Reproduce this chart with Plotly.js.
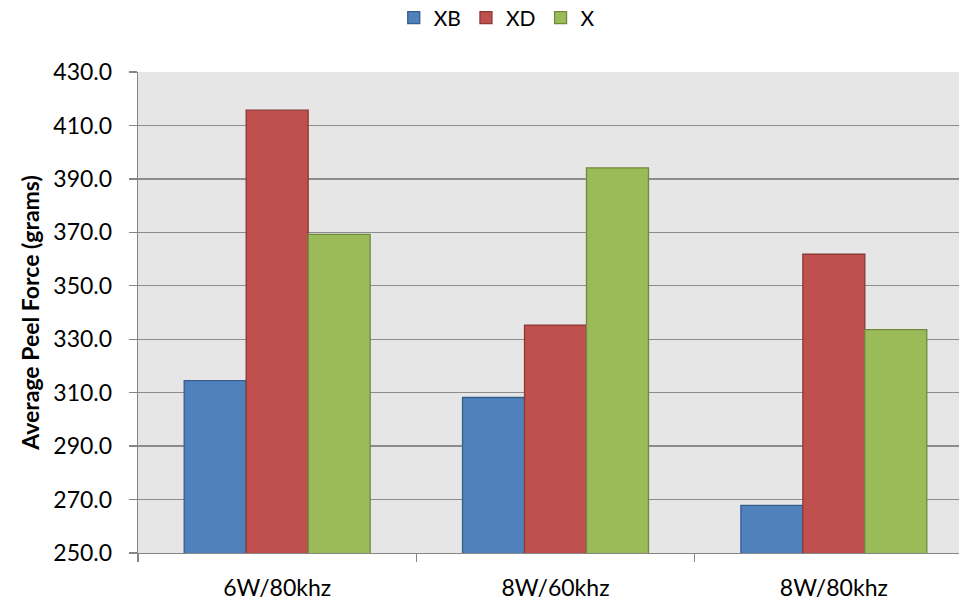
<!DOCTYPE html>
<html>
<head>
<meta charset="utf-8">
<script src="https://cdn.plot.ly/plotly-3.0.1.min.js"></script>
<style>
  html, body { margin: 0; padding: 0; overflow: hidden; background: #fff; }
  #chart { width: 974px; height: 600px; }
</style>
</head>
<body>
<div id="chart"></div>
<script>
// Peel force test settings (power / frequency)
const categories = ["6W/80khz", "8W/60khz", "8W/80khz"];

// Average peel force per material, in grams
const xbValues = [314.5, 308.2, 267.8];
const xdValues = [415.7, 335.3, 361.8];
const xValues  = [369.2, 394.1, 333.6];

const yTicks = [250, 270, 290, 310, 330, 350, 370, 390, 410, 430];
const yTickText = yTicks.map(v => v.toFixed(1));

const FONT = "Lato, 'Open Sans', sans-serif";

function barTrace(name, values, fill, edge) {
  return {
    type: "bar",
    name: name,
    x: categories,
    y: values,
    marker: { color: fill, line: { color: edge, width: 1.3 } },
    hoverinfo: "x+y+name"
  };
}

const data = [
  barTrace("XB", xbValues, "#4F81BD", "#385D8A"),
  barTrace("XD", xdValues, "#C0504D", "#8C3836"),
  barTrace("X",  xValues,  "#9BBB59", "#71893F")
];

const layout = {
  width: 974,
  height: 600,
  margin: { l: 138, r: 1, t: 72, b: 47 },
  paper_bgcolor: "#FFFFFF",
  plot_bgcolor: "#E6E6E6",
  barmode: "group",
  bargap: 0.332,
  bargroupgap: 0,
  font: { family: FONT, color: "#000000", size: 23 },
  showlegend: true,
  legend: {
    orientation: "h",
    xref: "container",
    yref: "container",
    x: 0.51,
    xanchor: "center",
    y: 0.97,
    yanchor: "middle",
    font: { family: FONT, size: 21, color: "#000" },
    itemwidth: 30,
    tracegroupgap: 0
  },
  xaxis: {
    type: "category",
    tickson: "boundaries",
    ticks: "outside",
    ticklen: 8,
    tickcolor: "#868686",
    tickwidth: 1.3,
    ticklabelstandoff: 14,
    showline: true,
    linecolor: "#868686",
    linewidth: 1.3,
    showgrid: false,
    tickfont: { family: FONT, size: 23, color: "#000" },
    fixedrange: true
  },
  yaxis: {
    range: [250, 430],
    tickmode: "array",
    tickvals: yTicks,
    ticktext: yTickText,
    ticks: "outside",
    ticklen: 8,
    tickcolor: "#868686",
    tickwidth: 1.3,
    ticklabelstandoff: 12,
    showline: true,
    linecolor: "#868686",
    linewidth: 1.3,
    showgrid: true,
    gridcolor: "#8C8C8C",
    gridwidth: 1.3,
    zeroline: false,
    tickfont: { family: FONT, size: 23, color: "#000" },
    title: {
      text: "<b>Average Peel Force (grams)</b>",
      font: { family: FONT, size: 23, color: "#000" },
      standoff: 7
    },
    fixedrange: true
  }
};

Plotly.newPlot("chart", data, layout, { displayModeBar: false, staticPlot: true });
</script>
</body>
</html>
